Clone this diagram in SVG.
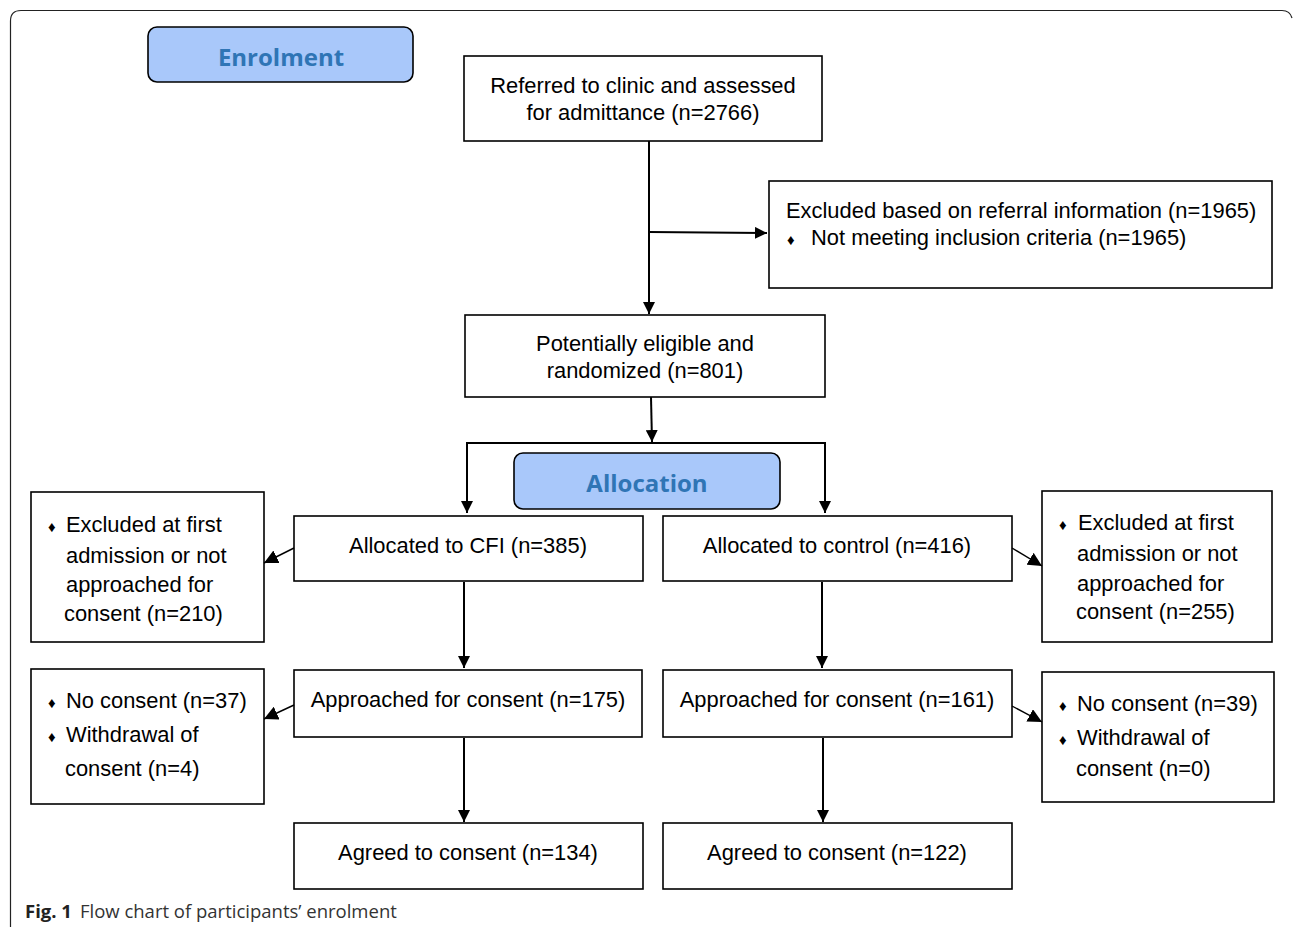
<svg xmlns="http://www.w3.org/2000/svg" width="1293" height="927" viewBox="0 0 1293 927">
<defs>
<style>
.box{fill:#fff;stroke:#000;stroke-width:1.6}
.hdr{fill:#a9c8fa;stroke:#000;stroke-width:1.6}
.ht{font-family:"Open Sans","Noto Sans",sans-serif;font-weight:bold;font-size:24px;fill:#2f75b5;text-anchor:middle}
.t{font-family:"Liberation Sans",Arial,sans-serif;font-size:21.9px;fill:#000}
.b{font-family:"Liberation Sans",Arial,sans-serif;font-size:15px;fill:#000}
.c{text-anchor:middle}
.ln{fill:none;stroke:#000;stroke-width:2}
.lt{fill:none;stroke:#000;stroke-width:1.4}
.cap{font-family:"Open Sans","Noto Sans",sans-serif;font-size:18.5px;fill:#333}
</style>
<marker id="ah" viewBox="0 0 12 12" refX="12" refY="6" markerWidth="12" markerHeight="12" markerUnits="userSpaceOnUse" orient="auto">
<path d="M0,0 L12,6 L0,12 Z" fill="#000"/>
</marker>
<marker id="ahb" viewBox="0 0 14 14" refX="14" refY="7" markerWidth="14" markerHeight="14" markerUnits="userSpaceOnUse" orient="auto">
<path d="M0,0 L14,7 L0,14 Z" fill="#000"/>
</marker>
</defs>
<rect width="1293" height="927" fill="#fff"/>
<path d="M10.5,927 V21 Q10.5,10.5 21,10.5 H1282 Q1290,10.5 1292,18" fill="none" stroke="#222" stroke-width="1.2"/>

<g id="enrolment">
<rect class="hdr" x="148" y="27" width="265" height="55" rx="9"/>
<text class="ht" x="281" y="66">Enrolment</text>
</g>
<g id="referred">
<rect class="box" x="464" y="56" width="358" height="85"/>
<text class="t c" x="643" y="93">Referred to clinic and assessed</text>
<text class="t c" x="643" y="120">for admittance (n=2766)</text>
</g>
<g id="excluded-referral">
<rect class="box" x="769" y="181" width="503" height="107"/>
<text class="t" x="786" y="218">Excluded based on referral information (n=1965)</text>
<text class="b" x="787" y="245">♦</text>
<text class="t" x="811" y="245">Not meeting inclusion criteria (n=1965)</text>
</g>
<g id="eligible">
<rect class="box" x="465" y="315" width="360" height="82"/>
<text class="t c" x="645" y="351">Potentially eligible and</text>
<text class="t c" x="645" y="378">randomized (n=801)</text>
</g>
<g id="allocation">
<rect class="hdr" x="514" y="453" width="266" height="56" rx="9"/>
<text class="ht" x="647" y="492">Allocation</text>
</g>
<g id="alloc-cfi">
<rect class="box" x="294" y="516" width="349" height="65"/>
<text class="t c" x="468" y="553">Allocated to CFI (n=385)</text>
</g>
<g id="alloc-control">
<rect class="box" x="663" y="516" width="349" height="65"/>
<text class="t c" x="837" y="553">Allocated to control (n=416)</text>
</g>
<g id="excl-cfi">
<rect class="box" x="31" y="492" width="233" height="150"/>
<text class="b" x="48" y="532">♦</text>
<text class="t" x="66" y="532">Excluded at first</text>
<text class="t" x="66" y="563">admission or not</text>
<text class="t" x="66" y="592">approached for</text>
<text class="t" x="64" y="621">consent (n=210)</text>
</g>
<g id="excl-control">
<rect class="box" x="1042" y="491" width="230" height="151"/>
<text class="b" x="1059" y="530">♦</text>
<text class="t" x="1078" y="530">Excluded at first</text>
<text class="t" x="1077" y="561">admission or not</text>
<text class="t" x="1077" y="591">approached for</text>
<text class="t" x="1076" y="619">consent (n=255)</text>
</g>
<g id="approached-cfi">
<rect class="box" x="294" y="670" width="348" height="67"/>
<text class="t c" x="468" y="707">Approached for consent (n=175)</text>
</g>
<g id="approached-control">
<rect class="box" x="663" y="670" width="349" height="67"/>
<text class="t c" x="837" y="707">Approached for consent (n=161)</text>
</g>
<g id="noconsent-cfi">
<rect class="box" x="31" y="669" width="233" height="135"/>
<text class="b" x="48" y="708">♦</text>
<text class="t" x="66" y="708">No consent (n=37)</text>
<text class="b" x="48" y="742">♦</text>
<text class="t" x="66" y="742">Withdrawal of</text>
<text class="t" x="65" y="776">consent (n=4)</text>
</g>
<g id="noconsent-control">
<rect class="box" x="1042" y="672" width="232" height="130"/>
<text class="b" x="1059" y="711">♦</text>
<text class="t" x="1077" y="711">No consent (n=39)</text>
<text class="b" x="1059" y="745">♦</text>
<text class="t" x="1077" y="745">Withdrawal of</text>
<text class="t" x="1076" y="776">consent (n=0)</text>
</g>
<g id="agreed-cfi">
<rect class="box" x="294" y="823" width="349" height="66"/>
<text class="t c" x="468" y="860">Agreed to consent (n=134)</text>
</g>
<g id="agreed-control">
<rect class="box" x="663" y="823" width="349" height="66"/>
<text class="t c" x="837" y="860">Agreed to consent (n=122)</text>
</g>

<g id="connectors">
<path class="ln" d="M649,141 V314" marker-end="url(#ah)"/>
<path class="ln" d="M649,232 L767,233" marker-end="url(#ah)"/>
<path class="ln" d="M651,397 L652,442" marker-end="url(#ah)"/>
<path class="ln" d="M467,513 V443 H825 V513" fill="none"/>
<path class="ln" d="M467,500 V513" marker-end="url(#ah)"/>
<path class="ln" d="M825,500 V513" marker-end="url(#ah)"/>
<path class="lt" d="M294,548 L264,563" marker-end="url(#ahb)"/>
<path class="lt" d="M1012,548 L1042,566" marker-end="url(#ahb)"/>
<path class="ln" d="M464,582 V668" marker-end="url(#ah)"/>
<path class="ln" d="M822,582 V668" marker-end="url(#ah)"/>
<path class="lt" d="M294,705 L264,719" marker-end="url(#ahb)"/>
<path class="lt" d="M1012,706 L1042,722" marker-end="url(#ahb)"/>
<path class="ln" d="M464,738 V822" marker-end="url(#ah)"/>
<path class="ln" d="M823,738 V822" marker-end="url(#ah)"/>
</g>

<text class="cap" x="25" y="918"><tspan font-weight="bold" fill="#222">Fig. 1</tspan><tspan dx="8">Flow chart of participants’ enrolment</tspan></text>
</svg>
